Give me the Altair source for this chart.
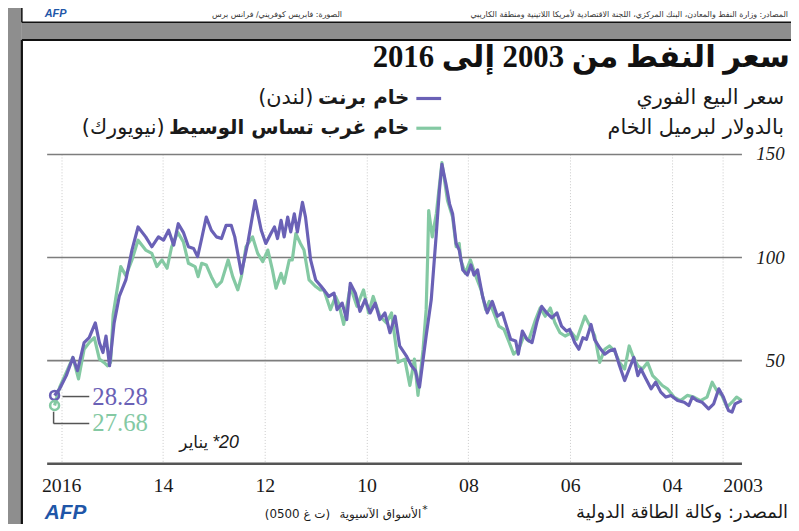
import altair as alt
import pandas as pd

# ---------------- data ----------------
brent_year = [2016.13, 2016.03, 2015.90, 2015.77, 2015.68, 2015.55, 2015.45, 2015.33, 2015.25, 2015.18,
              2015.12, 2015.05, 2014.96, 2014.86, 2014.73, 2014.61, 2014.49, 2014.34, 2014.22, 2014.09,
              2013.99, 2013.89, 2013.79, 2013.70, 2013.60, 2013.50, 2013.40, 2013.32, 2013.24, 2013.15,
              2013.05, 2012.95, 2012.85, 2012.76, 2012.66, 2012.59, 2012.46, 2012.33, 2012.19, 2012.07,
              2011.98, 2011.88, 2011.81, 2011.75, 2011.68, 2011.62, 2011.55, 2011.49, 2011.42, 2011.36,
              2011.26, 2011.20, 2011.10, 2011.00, 2010.89, 2010.74, 2010.64, 2010.58, 2010.48, 2010.39,
              2010.32, 2010.22, 2010.13, 2010.03, 2009.93, 2009.83, 2009.74, 2009.64, 2009.54, 2009.44,
              2009.35, 2009.22, 2009.12, 2009.04, 2008.99, 2008.96, 2008.83, 2008.73, 2008.63, 2008.57,
              2008.52, 2008.44, 2008.37, 2008.31, 2008.24, 2008.18, 2008.11, 2008.02, 2007.95, 2007.89,
              2007.82, 2007.72, 2007.63, 2007.53, 2007.43, 2007.33, 2007.27, 2007.17, 2007.07, 2007.02,
              2006.94, 2006.85, 2006.75, 2006.65, 2006.56, 2006.46, 2006.36, 2006.26, 2006.17, 2006.07,
              2006.01, 2005.91, 2005.83, 2005.75, 2005.68, 2005.59, 2005.52, 2005.42, 2005.32, 2005.23,
              2005.13, 2005.03, 2004.93, 2004.84, 2004.75, 2004.67, 2004.61, 2004.51, 2004.41, 2004.32,
              2004.22, 2004.12, 2004.02, 2003.89, 2003.76, 2003.67, 2003.60, 2003.51, 2003.41, 2003.28,
              2003.18, 2003.08, 2002.99, 2002.89, 2002.82, 2002.76, 2002.63]
brent_usd = [32.9, 36.1, 42.5, 51.3, 44.9, 58.5, 60.9, 68.1, 58.5, 53.7,
             61.7, 47.3, 68.1, 80.9, 88.9, 103.4, 114.6, 109.8, 105.0, 109.8,
             108.2, 113.0, 105.8, 116.2, 112.0, 105.0, 104.2, 100.2, 109.0, 119.4,
             113.0, 109.8, 109.0, 115.4, 115.4, 109.8, 92.1, 107.4, 127.4, 113.0,
             106.6, 111.4, 114.6, 109.0, 117.8, 109.8, 119.4, 112.2, 121.0, 112.2,
             126.6, 119.4, 98.6, 88.9, 85.7, 80.9, 82.5, 74.5, 77.7, 69.7,
             87.3, 82.5, 73.7, 79.3, 72.9, 77.7, 69.7, 72.9, 63.3, 71.3,
             56.9, 52.1, 47.3, 44.9, 39.3, 36.9, 61.7, 79.3, 111.4, 132.2,
             145.0, 135.4, 125.8, 121.0, 106.6, 103.4, 93.8, 91.3, 96.2, 91.3,
             93.8, 80.9, 72.9, 78.5, 71.3, 72.9, 68.1, 60.1, 59.3, 52.9,
             64.1, 60.1, 58.5, 68.9, 76.1, 72.9, 70.5, 72.9, 66.5, 64.1,
             64.9, 58.5, 55.3, 60.9, 60.1, 67.3, 60.0, 56.0, 52.9, 54.5,
             55.3, 47.3, 40.1, 45.7, 51.3, 42.5, 45.7, 40.9, 36.1, 39.3,
             34.5, 32.1, 32.9, 30.4, 29.6, 28.0, 32.1, 30.4, 29.6, 26.4,
             28.8, 36.1, 32.1, 25.6, 24.8, 28.8, 30.4]

wti_year = [2016.13, 2016.03, 2015.90, 2015.77, 2015.66, 2015.55, 2015.45, 2015.35, 2015.25, 2015.16,
            2015.09, 2015.03, 2014.98, 2014.83, 2014.73, 2014.61, 2014.49, 2014.34, 2014.22, 2014.12,
            2014.02, 2013.92, 2013.83, 2013.71, 2013.60, 2013.50, 2013.37, 2013.31, 2013.24, 2013.15,
            2013.05, 2012.95, 2012.85, 2012.72, 2012.63, 2012.53, 2012.46, 2012.37, 2012.24, 2012.14,
            2012.04, 2011.94, 2011.85, 2011.78, 2011.68, 2011.62, 2011.52, 2011.46, 2011.39, 2011.30,
            2011.23, 2011.13, 2011.00, 2010.91, 2010.84, 2010.71, 2010.61, 2010.55, 2010.45, 2010.32,
            2010.19, 2010.06, 2009.96, 2009.87, 2009.74, 2009.61, 2009.51, 2009.38, 2009.25, 2009.15,
            2009.06, 2008.99, 2008.89, 2008.83, 2008.80, 2008.78, 2008.71, 2008.63, 2008.52, 2008.41,
            2008.31, 2008.24, 2008.18, 2008.15, 2008.06, 2007.96, 2007.85, 2007.75, 2007.66, 2007.59,
            2007.50, 2007.40, 2007.30, 2007.21, 2007.11, 2007.01, 2006.91, 2006.82, 2006.68, 2006.59,
            2006.49, 2006.39, 2006.30, 2006.20, 2006.10, 2005.97, 2005.87, 2005.71, 2005.61, 2005.52,
            2005.42, 2005.32, 2005.23, 2005.13, 2005.03, 2004.93, 2004.84, 2004.77, 2004.67, 2004.58,
            2004.48, 2004.38, 2004.28, 2004.19, 2004.09, 2003.96, 2003.83, 2003.70, 2003.57, 2003.44,
            2003.31, 2003.21, 2003.12, 2003.02, 2002.92, 2002.82, 2002.73, 2002.63]
wti_usd = [28.0, 36.9, 44.0, 51.3, 40.9, 55.3, 58.5, 60.9, 50.5, 48.9,
           47.3, 48.9, 72.0, 95.4, 91.0, 98.6, 108.2, 103.4, 101.8, 95.4,
           98.6, 94.6, 105.0, 112.0, 107.4, 97.0, 95.4, 90.5, 97.0, 96.2,
           90.5, 85.7, 88.1, 98.6, 90.5, 84.1, 90.5, 105.0, 109.8, 101.8,
           97.8, 103.4, 93.8, 84.9, 92.1, 87.3, 98.6, 98.6, 111.4, 106.6,
           103.4, 88.9, 85.7, 84.1, 84.1, 74.5, 80.9, 77.7, 67.3, 85.7,
           76.1, 84.1, 72.9, 80.9, 71.3, 68.1, 72.9, 48.9, 50.5, 37.7,
           50.5, 32.9, 55.3, 74.5, 100.0, 122.6, 109.8, 121.0, 145.8, 127.4,
           119.4, 105.0, 106.6, 98.6, 92.1, 98.6, 90.5, 84.1, 74.5, 78.5,
           72.9, 66.5, 64.9, 59.3, 52.9, 55.3, 61.7, 59.3, 69.7, 75.3,
           71.3, 75.3, 68.1, 63.3, 61.7, 63.3, 60.1, 71.3, 66.5, 62.0,
           48.9, 55.3, 56.9, 54.5, 48.9, 45.7, 56.9, 52.1, 47.3, 45.7,
           48.9, 42.5, 40.1, 37.7, 36.1, 32.1, 30.4, 32.9, 32.1, 30.4,
           32.1, 39.3, 35.3, 32.9, 27.2, 29.6, 32.1, 30.4]

series_names = ["خام برنت", "خام غرب تساس الوسيط"]
series_places = ["(لندن)", "(نيويورك)"]
series_colors = ["#6a61b6", "#84c9a3"]
last_values = ["28.28", "27.68"]
x_ticks = [2003, 2004, 2006, 2008, 2010, 2012, 2014, 2016]
y_ticks = [50, 100, 150]

title_text = "سعر النفط من 2003 إلى 2016"
subtitle_lines = ["سعر البيع الفوري", "بالدولار لبرميل الخام"]
source_text = "المصدر: وكالة الطاقة الدولية"
note_text = "الأسواق الآسيوية"
note_time = "(0500 ت غ)"
date_note = ["يناير", "*20"]
header_source = "المصادر: وزارة النفط والمعادن، البنك المركزي، اللجنة الاقتصادية لأمريكا اللاتينية ومنطقة الكاريبي"
header_photo = "الصورة: فابريس كوفريني/ فرانس برس"

# ---------------- tables ----------------
brent_df = pd.DataFrame({"year": brent_year, "usd": brent_usd})
wti_df = pd.DataFrame({"year": wti_year, "usd": wti_usd})
end_df = pd.DataFrame({"year": [brent_year[0], wti_year[0]],
                       "usd": [brent_usd[0], wti_usd[0]],
                       "series": series_names})
one = pd.DataFrame({"k": [0]})

ARABIC = "DejaVu Sans"
SERIF = "Liberation Serif"
MIXED = "Liberation Serif, DejaVu Sans"

x_enc = alt.X("year:Q",
              scale=alt.Scale(domain=[2002.635, 2016.286], reverse=True, nice=False, zero=False),
              axis=alt.Axis(values=x_ticks, title=None,
                            labelExpr="(datum.value == 2016 || datum.value == 2003) ? '' + datum.value : substring('' + datum.value, 2)",
                            labelAlign={"condition": {"test": "datum.value == 2003", "value": "left"}, "value": "center"},
                            labelFont=SERIF, labelFontSize=20, labelColor="#1a1a1a", labelPadding=13,
                            ticks=False, tickSize=0, domain=True, domainColor="#555555", domainWidth=2.5,
                            grid=True, gridColor="#c9c9c9", gridDash=[1, 2], gridWidth=1))
y_enc = alt.Y("usd:Q",
              scale=alt.Scale(domain=[0, 150], nice=False, zero=True),
              axis=alt.Axis(orient="right", values=y_ticks, title=None,
                            labelFont=SERIF, labelFontStyle="italic", labelFontSize=19,
                            labelColor="#1a1a1a", labelAlign="right", labelPadding=43,
                            labelBaseline="middle",
                            ticks=False, tickSize=0, domain=False,
                            grid=True, gridColor="#7d7d7d", gridWidth=1.6))

wti_line = alt.Chart(wti_df).mark_line(color=series_colors[1], strokeWidth=3.2,
                                       strokeJoin="round").encode(x=x_enc, y=y_enc)
brent_line = alt.Chart(brent_df).mark_line(color=series_colors[0], strokeWidth=3.2,
                                           strokeJoin="round").encode(x=x_enc, y=y_enc)
end_pts = alt.Chart(end_df).mark_point(filled=False, size=80, strokeWidth=2.6, opacity=1).encode(
    x=x_enc, y=y_enc,
    color=alt.Color("series:N", scale=alt.Scale(domain=series_names, range=series_colors), legend=None))


def txt(s, x, y, size, color="#1a1a1a", font=ARABIC, weight="normal", style="normal",
        align="right", baseline="alphabetic"):
    return alt.Chart(one).mark_text(text=s, font=font, fontSize=size, fontWeight=weight,
                                    fontStyle=style, align=align, baseline=baseline,
                                    color=color).encode(x=alt.value(x), y=alt.value(y))


def rect(x, x2, y, y2, color):
    return alt.Chart(one).mark_rect(color=color).encode(
        x=alt.value(x), x2=alt.value(x2), y=alt.value(y), y2=alt.value(y2))


def rule(x, x2, y, y2, color, w):
    return alt.Chart(one).mark_rule(color=color, strokeWidth=w).encode(
        x=alt.value(x), x2=alt.value(x2), y=alt.value(y), y2=alt.value(y2))


GRAY = "#8e8e8e"
decor = [
    rect(-60, -25, -160, 420, GRAY),
    rect(-25, 780, -133, -115, GRAY),
    rule(-25, 780, -115, -115, "#111111", 2.2),
    rule(-25, -25, -115, 420, "#111111", 2.2),
    rule(-25, 780, -133, -133, "#111111", 1.5),
    rule(-25, -25, -160, -133, "#111111", 1.5),
    txt("AFP", -2, -138, 11, color="#1f56a8", font="Liberation Sans", weight="bold",
        style="italic", align="left"),
    txt(header_photo, 298, -138, 8, color="#333333"),
    txt(header_source, 748, -138, 8, color="#333333"),
]

texts = [
    txt(title_text, 750, -88, 31, color="#111111", font=MIXED, weight="bold"),
    txt(subtitle_lines[0], 744, -50, 21),
    txt(subtitle_lines[1], 744, -20, 21),
    rule(373, 398, -56, -56, series_colors[0], 3.2),
    rule(373, 398, -26, -26, series_colors[1], 3.2),
    txt(series_names[0], 366, -50, 20, weight="bold"),
    txt(series_places[0], 269, -50, 21),
    txt(series_names[1], 366, -20, 20, weight="bold"),
    txt(series_places[1], 119, -20, 21),
    # end-value annotations
    rule(16, 43, 244.7, 244.7, "#555555", 1.5),
    rule(7, 7, 260, 272, "#555555", 1.5),
    rule(7, 43, 272, 272, "#555555", 1.5),
    txt(last_values[0], 46, 245, 25, color=series_colors[0], font=SERIF, align="left", baseline="middle"),
    txt(last_values[1], 46, 271, 25, color=series_colors[1], font=SERIF, align="left", baseline="middle"),
    txt(date_note[0], 163, 297, 17),
    txt(date_note[1], 167, 297, 18, font="Liberation Sans", style="italic", align="left"),
    # footer
    txt(source_text, 748, 367, 18),
    txt(note_text, 378, 367, 12),
    txt("*", 379, 362, 11, align="left"),
    txt(note_time, 286, 367, 12),
    txt("AFP", -2, 368, 21, color="#1f56a8", font="Liberation Sans", weight="bold",
        style="italic", align="left"),
]

chart = alt.layer(*decor, wti_line, brent_line, end_pts, *texts).properties(
    width=701, height=312,
    padding={"left": 39, "top": 145, "right": 50, "bottom": 59},
    autosize=alt.AutoSizeParams(type="none"),
    background="white",
).configure_view(strokeWidth=0)

chart.save("out.html", embed_options={"renderer": "svg", "actions": False})
